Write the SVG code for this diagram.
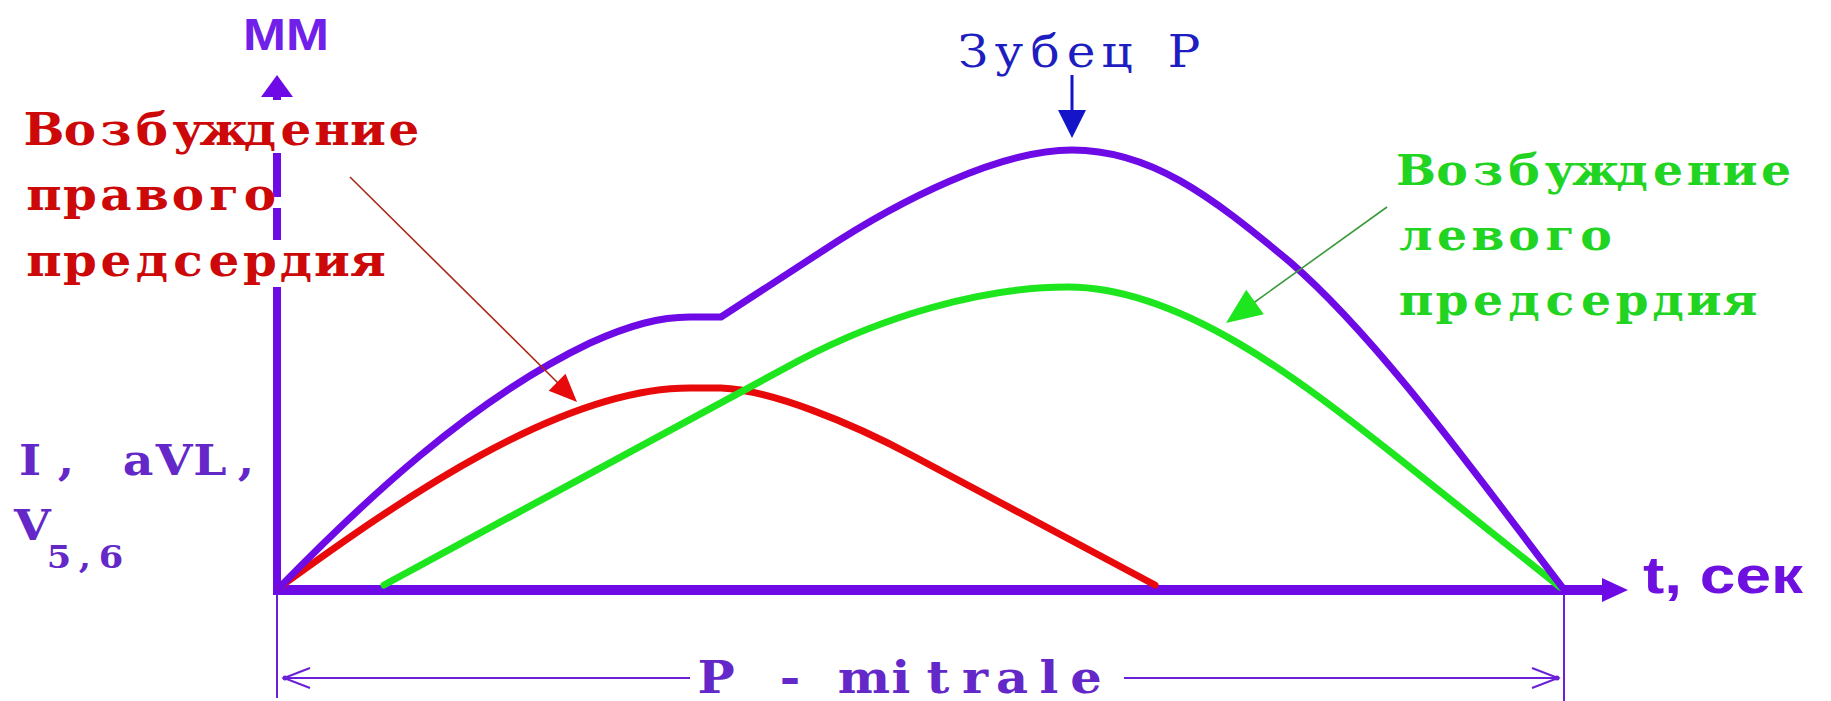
<svg xmlns="http://www.w3.org/2000/svg" width="1831" height="701" viewBox="0 0 1831 701">
<style>
.ax{stroke:#6E0AE6;fill:none}
.axh{fill:#6E0AE6}
.curve{fill:none;stroke-width:7;stroke-linejoin:round;stroke-linecap:round}
.mono{font-family:"DejaVu Serif","Liberation Serif",serif;text-anchor:middle}
.sans{font-family:"Liberation Sans",Arial,sans-serif;font-weight:bold}
.red{fill:#CC0808;font-weight:bold}
.grn{fill:#22D422;font-weight:bold}
.pur{fill:#6428C8;font-weight:bold}
.blu{fill:#1E1EC0}
.dim{stroke:#6A20D8;stroke-width:2;fill:none}
</style>
<rect width="1831" height="701" fill="#ffffff"/>
<g id="axes">
<path class="ax" stroke-width="8" d="M277,594 L277,287 M277,240 L277,208 M277,197 L277,153 M277,100 L277,94"/>
<polygon class="axh" points="277,75 261,97 293,97"/>
<path class="ax" stroke-width="10" d="M273,590 L1606,590"/>
<polygon class="axh" points="1628,590 1602,578 1602,602"/>
</g>
<g id="dimension">
<path class="dim" d="M277,594 L277,698 M1564,594 L1564,701 M284,678 L690,678 M1124,678 L1558,678"/>
<path class="dim" d="M310,668 L284,678 L310,688 M1532,668 L1558,678 L1532,688"/>
<circle cx="285" cy="678" r="2.5" fill="#6A20D8"/>
<circle cx="1557" cy="678" r="2.5" fill="#6A20D8"/>
</g>
<g id="curve-right-atrium">
<path class="curve" stroke="#E80A0A" d="M280,587 C400,500 560,388 690,388 L721,388 C770,390 850,422 915,457 L1155,585"/>
</g>
<g id="curve-left-atrium">
<path class="curve" stroke="#1EE61E" d="M384,585 L800,360 C880,318 980,287 1068,287 C1180,287 1300,380 1397,457 L1560,587"/>
</g>
<g id="curve-p-wave">
<path class="curve" stroke="#6E0AE6" d="M280,587 C360,505 470,400 590,343 C630,325 660,317 690,317 L721,317 L824,250 C900,200 1000,150 1072,150 C1150,150 1210,195 1290,262 C1380,340 1480,480 1562,587"/>
</g>
<g id="connectors">
<line x1="350" y1="177" x2="560" y2="385" stroke="#A82818" stroke-width="1.6"/>
<polygon points="577,402 548.7,390.8 565.5,373.8" fill="#E80A0A"/>
<line x1="1387" y1="207" x2="1252" y2="304" stroke="#3A9A3A" stroke-width="1.6"/>
<polygon points="1226,323 1263.8,314.2 1246.2,289.8" fill="#1EE61E"/>
<line x1="1072" y1="75" x2="1072" y2="112" stroke="#1414C8" stroke-width="3"/>
<polygon points="1072,138 1058,110 1086,110" fill="#1414C8"/>
</g>
<g id="label-mm">
<text class="sans" x="243" y="50" font-size="44" textLength="86" lengthAdjust="spacingAndGlyphs" fill="#7020E8">ММ</text>
</g>
<g id="label-right-atrium" class="mono red" font-size="44" transform="scale(1.1 1)">
<text x="40 72.73 105.45 138.18 170.91 203.64 236.36 269.09 301.82 334.55 367.27" y="145">Возбуждение</text>
<text x="40 72.73 105.45 138.18 170.91 203.64 236.36" y="210">правого</text>
<text x="40 72.73 105.45 138.18 170.91 203.64 236.36 269.09 301.82 334.55" y="276">предсердия</text>
</g>
<g id="label-p-wave" transform="scale(1.1 1)">
<text class="mono blu" x="884.55 917.27 950 982.73 1015.45 1045.45 1076.36" y="67" font-size="44">Зубец Р</text>
</g>
<g id="label-left-atrium" class="mono grn" font-size="43" transform="scale(1.1 1)">
<text x="1287.27 1320 1352.73 1385.45 1418.18 1450.91 1483.64 1516.36 1549.09 1581.82 1614.55" y="185">Возбуждение</text>
<text x="1287.27 1320 1352.73 1385.45 1418.18 1450.91" y="250">левого</text>
<text x="1287.27 1320 1352.73 1385.45 1418.18 1450.91 1483.64 1516.36 1549.09 1581.82" y="315">предсердия</text>
</g>
<g id="label-leads" class="mono pur" transform="scale(1.1 1)">
<text x="27.27 60 92.73 125.45 158.18 190.91 223.64" y="475" font-size="43">I, aVL,</text>
<text x="29.5" y="540" font-size="43">V</text>
<text x="53.64 77.27 100.91" y="568" font-size="32">5,6</text>
</g>
<g id="label-time">
<text class="sans" x="1643" y="593" font-size="52" textLength="160" lengthAdjust="spacingAndGlyphs" fill="#6E10E0">t, сек</text>
</g>
<g id="label-mitrale">
<rect x="690" y="660" width="434" height="36" fill="#ffffff"/>
<text class="mono pur" transform="scale(1.1 1)" x="650.91 684.55 718.18 751.82 785.45 819.09 852.73 886.36 920 953.64 987.27" y="693" font-size="45">P - mitrale</text>
</g>
</svg>
